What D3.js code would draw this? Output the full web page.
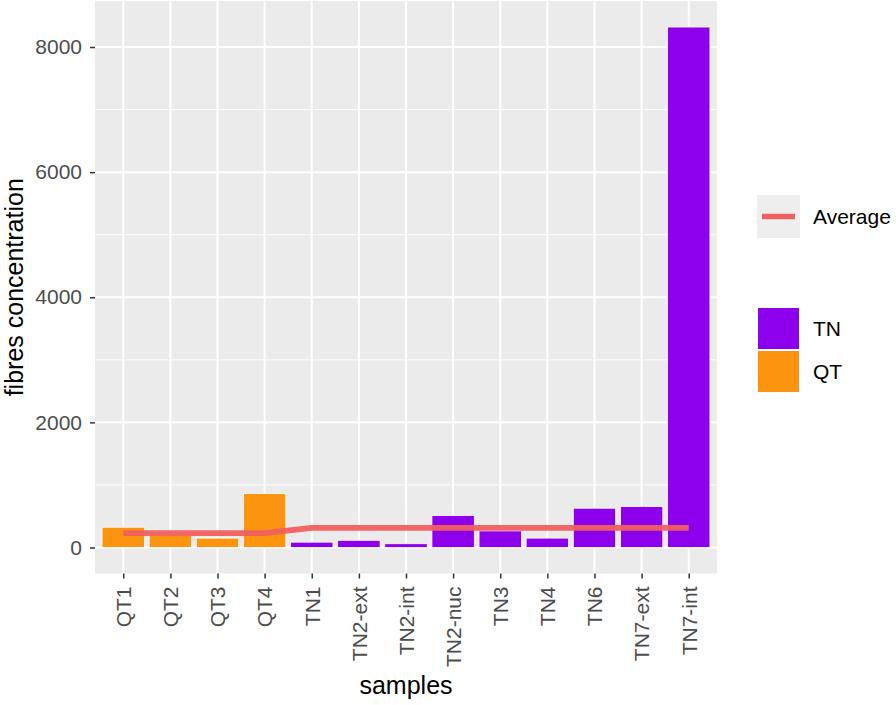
<!DOCTYPE html>
<html>
<head>
<meta charset="utf-8">
<script src="https://cdn.jsdelivr.net/npm/d3@7"></script>
<style>
  body { margin: 0; background: #fff; }
  svg text { font-family: "Liberation Sans", Arial, Helvetica, sans-serif; }
</style>
</head>
<body>
<div id="chart"></div>
<script>
// data
let samples = ["QT1", "QT2", "QT3", "QT4", "TN1", "TN2-ext", "TN2-int", "TN2-nuc", "TN3", "TN4", "TN6", "TN7-ext", "TN7-int"];
let groups = ["QT", "QT", "QT", "QT", "TN", "TN", "TN", "TN", "TN", "TN", "TN", "TN", "TN"];
let concentration = [324, 195, 150, 862, 85, 115, 60, 510, 265, 150, 628, 655, 8320];
let average = [229, 229, 229, 229, 312, 312, 312, 312, 312, 312, 312, 312, 312];
let yTicks = [0, 2000, 4000, 6000, 8000];
let yMinor = [1000, 3000, 5000, 7000];
let legendGroups = ["TN", "QT"];

let width = 896;
let height = 705;
let panel = { left: 95, right: 717, top: 1, bottom: 573.5 };

let colors = { TN: "#8C00EB", QT: "#FD9410" };
let lineColor = "#F0605F";

let rows = samples.map((s, i) => ({ sample: s, group: groups[i], value: concentration[i], avg: average[i] }));

/* Scales */
let maxVal = d3.max(concentration);
let xScale = d3.scalePoint()
  .domain(samples)
  .range([panel.left, panel.right])
  .padding(0.6);
let step = xScale.step();
let barWidth = step * 0.9;

let yScale = d3.scaleLinear()
  .domain([-0.05 * maxVal, 1.05 * maxVal])
  .range([panel.bottom, panel.top]);

let svg = d3.select("#chart")
  .append("svg")
  .attr("width", width)
  .attr("height", height);

/* Panel + grid */
svg.append("rect")
  .attr("x", panel.left)
  .attr("y", panel.top)
  .attr("width", panel.right - panel.left)
  .attr("height", panel.bottom - panel.top)
  .attr("fill", "#EBEBEB");

let grid = svg.append("g").attr("class", "grid");
grid.selectAll(".minor")
  .data(yMinor)
  .enter()
  .append("line")
  .attr("x1", panel.left)
  .attr("x2", panel.right)
  .attr("y1", d => yScale(d))
  .attr("y2", d => yScale(d))
  .attr("stroke", "#fff")
  .attr("stroke-width", 1);

grid.selectAll(".major-y")
  .data(yTicks)
  .enter()
  .append("line")
  .attr("x1", panel.left)
  .attr("x2", panel.right)
  .attr("y1", d => yScale(d))
  .attr("y2", d => yScale(d))
  .attr("stroke", "#fff")
  .attr("stroke-width", 2);

grid.selectAll(".major-x")
  .data(samples)
  .enter()
  .append("line")
  .attr("x1", d => xScale(d))
  .attr("x2", d => xScale(d))
  .attr("y1", panel.top)
  .attr("y2", panel.bottom)
  .attr("stroke", "#fff")
  .attr("stroke-width", 2);

/* Bars */
svg.append("g")
  .selectAll("rect")
  .data(rows)
  .enter()
  .append("rect")
  .attr("x", d => xScale(d.sample) - barWidth / 2)
  .attr("y", d => yScale(d.value))
  .attr("width", barWidth)
  .attr("height", d => yScale(0) - yScale(d.value))
  .attr("fill", d => colors[d.group])
  .attr("stroke", "#fff")
  .attr("stroke-width", 0.8);

/* Average line */
let line = d3.line()
  .x(d => xScale(d.sample))
  .y(d => yScale(d.avg));

svg.append("path")
  .attr("d", line(rows))
  .attr("fill", "none")
  .attr("stroke", lineColor)
  .attr("stroke-width", 5.8)
  .attr("stroke-linejoin", "round")
  .attr("opacity", 0.95);

/* Axes */
let xAxis = d3.axisBottom(xScale).tickSize(5).tickPadding(8);
let yAxis = d3.axisLeft(yScale)
  .tickValues(yTicks)
  .tickFormat(d3.format("d"))
  .tickSize(5)
  .tickPadding(8);

let gx = svg.append("g")
  .attr("transform", `translate(0, ${panel.bottom})`)
  .call(xAxis);
let gy = svg.append("g")
  .attr("transform", `translate(${panel.left}, 0)`)
  .call(yAxis);

[gx, gy].forEach(g => {
  g.select(".domain").remove();
  g.selectAll(".tick line").attr("stroke", "#333").attr("stroke-width", 1.5);
  g.selectAll(".tick text").attr("fill", "#4D4D4D").style("font-size", "21px");
});

gx.selectAll(".tick text")
  .attr("text-anchor", "end")
  .attr("transform", "rotate(-90)")
  .attr("x", -13)
  .attr("y", 0)
  .attr("dy", "0.35em");

/* Axis titles */
svg.append("text")
  .attr("x", (panel.left + panel.right) / 2)
  .attr("y", 694)
  .attr("text-anchor", "middle")
  .style("font-size", "25px")
  .attr("fill", "#000")
  .text("samples");

svg.append("text")
  .attr("transform", `translate(23, ${(panel.top + panel.bottom) / 2}) rotate(-90)`)
  .attr("text-anchor", "middle")
  .style("font-size", "25px")
  .attr("fill", "#000")
  .text("fibres concentration");

/* Legends */
let keySize = 42;
let legendX = 757;

let avgLegend = svg.append("g").attr("transform", `translate(${legendX}, 195)`);
avgLegend.append("rect")
  .attr("width", keySize + 1)
  .attr("height", keySize + 1)
  .attr("fill", "#EEEEEE");
avgLegend.append("line")
  .attr("x1", 5)
  .attr("x2", keySize - 4)
  .attr("y1", (keySize + 1) / 2)
  .attr("y2", (keySize + 1) / 2)
  .attr("stroke", lineColor)
  .attr("stroke-width", 5.5);
avgLegend.append("text")
  .attr("x", 56)
  .attr("y", (keySize + 1) / 2)
  .attr("dy", "0.35em")
  .style("font-size", "21px")
  .attr("fill", "#000")
  .text("Average");

let fillLegend = svg.append("g").attr("transform", `translate(${legendX}, 307)`);
let lg = fillLegend.selectAll("g")
  .data(legendGroups)
  .enter()
  .append("g")
  .attr("transform", (d, i) => `translate(0, ${i * (keySize + 1)})`);

lg.append("rect")
  .attr("x", 0.5)
  .attr("y", 0.5)
  .attr("width", keySize)
  .attr("height", keySize)
  .attr("fill", d => colors[d])
  .attr("stroke", "#fff")
  .attr("stroke-width", 1);

lg.append("text")
  .attr("x", 56)
  .attr("y", keySize / 2 + 1)
  .attr("dy", "0.35em")
  .style("font-size", "21px")
  .attr("fill", "#000")
  .text(d => d);
</script>
</body>
</html>
